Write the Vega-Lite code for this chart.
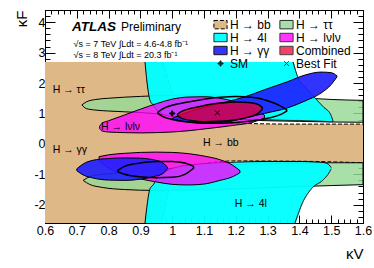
{
"$schema":"https://vega.github.io/schema/vega-lite/v6.json",
"width":318,"height":213,"autosize":"none",
"padding":{"left":45,"top":10,"right":11,"bottom":45},
"config":{"font":"Liberation Sans","view":{"stroke":"black","strokeWidth":1},
"axis":{"grid":false,"domainColor":"black","tickColor":"black","labelColor":"black","titleColor":"black","labelFont":"Liberation Sans","titleFont":"Liberation Sans"},
"legend":{"orient":"none","legendX":169,"legendY":8,"columns":2,"columnPadding":6,"rowPadding":-5,"labelFontSize":12,"labelOffset":3,"symbolSize":144,"symbolStrokeColor":"black","symbolStrokeWidth":1,"labelColor":"black","padding":0,"gridAlign":"each","labelFont":"Liberation Sans"}},
"datasets":{
"R":[
{"ch":"H → bb","p":"a","x":0.6,"lo":-2.6,"hi":2.69},
{"ch":"H → bb","p":"a","x":0.966,"lo":-2.6,"hi":2.69},
{"ch":"H → bb","p":"a","x":0.971,"lo":-2.4,"hi":2.69},
{"ch":"H → bb","p":"a","x":0.98,"lo":-2.0,"hi":2.38},
{"ch":"H → bb","p":"a","x":0.985,"lo":-1.75,"hi":2.2},
{"ch":"H → bb","p":"a","x":0.99,"lo":-1.5,"hi":2.03},
{"ch":"H → bb","p":"a","x":1.0,"lo":-1.28,"hi":1.7},
{"ch":"H → bb","p":"a","x":1.01,"lo":-1.1,"hi":1.5},
{"ch":"H → bb","p":"a","x":1.02,"lo":-1.0,"hi":1.3},
{"ch":"H → bb","p":"a","x":1.05,"lo":-0.8,"hi":1.0},
{"ch":"H → bb","p":"a","x":1.1,"lo":-0.65,"hi":0.8},
{"ch":"H → bb","p":"a","x":1.2,"lo":-0.56,"hi":0.68},
{"ch":"H → bb","p":"a","x":1.4,"lo":-0.57,"hi":0.65},
{"ch":"H → bb","p":"a","x":1.6,"lo":-0.62,"hi":0.65},
{"ch":"H → ττ","p":"u","x":0.716,"lo":1.28,"hi":1.28},
{"ch":"H → ττ","p":"u","x":0.73,"lo":1.16,"hi":1.38},
{"ch":"H → ττ","p":"u","x":0.76,"lo":1.11,"hi":1.46},
{"ch":"H → ττ","p":"u","x":0.8,"lo":1.08,"hi":1.5},
{"ch":"H → ττ","p":"u","x":0.9,"lo":1.03,"hi":1.56},
{"ch":"H → ττ","p":"u","x":1.0,"lo":0.95,"hi":1.6},
{"ch":"H → ττ","p":"u","x":1.1,"lo":0.87,"hi":1.61},
{"ch":"H → ττ","p":"u","x":1.2,"lo":0.8,"hi":1.6},
{"ch":"H → ττ","p":"u","x":1.3,"lo":0.76,"hi":1.57},
{"ch":"H → ττ","p":"u","x":1.4,"lo":0.74,"hi":1.52},
{"ch":"H → ττ","p":"u","x":1.5,"lo":0.72,"hi":1.46},
{"ch":"H → ττ","p":"u","x":1.6,"lo":0.71,"hi":1.43},
{"ch":"H → ττ","p":"l","x":0.72,"lo":-1.2,"hi":-1.2},
{"ch":"H → ττ","p":"l","x":0.74,"lo":-1.33,"hi":-1.08},
{"ch":"H → ττ","p":"l","x":0.78,"lo":-1.43,"hi":-1.0},
{"ch":"H → ττ","p":"l","x":0.85,"lo":-1.5,"hi":-0.95},
{"ch":"H → ττ","p":"l","x":0.95,"lo":-1.53,"hi":-0.85},
{"ch":"H → ττ","p":"l","x":1.05,"lo":-1.52,"hi":-0.76},
{"ch":"H → ττ","p":"l","x":1.2,"lo":-1.48,"hi":-0.68},
{"ch":"H → ττ","p":"l","x":1.35,"lo":-1.42,"hi":-0.64},
{"ch":"H → ττ","p":"l","x":1.5,"lo":-1.37,"hi":-0.62},
{"ch":"H → ττ","p":"l","x":1.6,"lo":-1.34,"hi":-0.62},
{"ch":"H → 4l","p":"u","x":0.9145,"lo":2.69,"hi":2.69},
{"ch":"H → 4l","p":"u","x":0.92,"lo":2.1,"hi":2.69},
{"ch":"H → 4l","p":"u","x":0.93,"lo":1.44,"hi":2.69},
{"ch":"H → 4l","p":"u","x":0.94,"lo":1.28,"hi":2.69},
{"ch":"H → 4l","p":"u","x":0.952,"lo":1.11,"hi":2.69},
{"ch":"H → 4l","p":"u","x":0.97,"lo":0.98,"hi":2.69},
{"ch":"H → 4l","p":"u","x":1.0,"lo":0.9,"hi":2.69},
{"ch":"H → 4l","p":"u","x":1.1,"lo":0.84,"hi":2.69},
{"ch":"H → 4l","p":"u","x":1.2,"lo":0.81,"hi":2.69},
{"ch":"H → 4l","p":"u","x":1.3,"lo":0.79,"hi":2.69},
{"ch":"H → 4l","p":"u","x":1.38,"lo":0.77,"hi":2.69},
{"ch":"H → 4l","p":"u","x":1.396,"lo":0.77,"hi":2.17},
{"ch":"H → 4l","p":"u","x":1.42,"lo":0.76,"hi":1.85},
{"ch":"H → 4l","p":"u","x":1.449,"lo":0.75,"hi":1.51},
{"ch":"H → 4l","p":"u","x":1.475,"lo":0.74,"hi":1.22},
{"ch":"H → 4l","p":"u","x":1.499,"lo":0.73,"hi":0.95},
{"ch":"H → 4l","p":"u","x":1.506,"lo":0.73,"hi":0.74},
{"ch":"H → 4l","p":"l","x":0.9145,"lo":-2.6,"hi":-2.6},
{"ch":"H → 4l","p":"l","x":0.92,"lo":-2.6,"hi":-2.1},
{"ch":"H → 4l","p":"l","x":0.93,"lo":-2.6,"hi":-1.48},
{"ch":"H → 4l","p":"l","x":0.94,"lo":-2.6,"hi":-1.35},
{"ch":"H → 4l","p":"l","x":0.955,"lo":-2.6,"hi":-1.09},
{"ch":"H → 4l","p":"l","x":0.98,"lo":-2.6,"hi":-0.9},
{"ch":"H → 4l","p":"l","x":1.02,"lo":-2.6,"hi":-0.75},
{"ch":"H → 4l","p":"l","x":1.1,"lo":-2.6,"hi":-0.65},
{"ch":"H → 4l","p":"l","x":1.2,"lo":-2.6,"hi":-0.6},
{"ch":"H → 4l","p":"l","x":1.3,"lo":-2.6,"hi":-0.58},
{"ch":"H → 4l","p":"l","x":1.386,"lo":-2.6,"hi":-0.58},
{"ch":"H → 4l","p":"l","x":1.411,"lo":-1.91,"hi":-0.58},
{"ch":"H → 4l","p":"l","x":1.44,"lo":-1.45,"hi":-0.59},
{"ch":"H → 4l","p":"l","x":1.474,"lo":-1.19,"hi":-0.61},
{"ch":"H → 4l","p":"l","x":1.49,"lo":-1.0,"hi":-0.66},
{"ch":"H → 4l","p":"l","x":1.5,"lo":-0.82,"hi":-0.78},
{"ch":"H → lνlν","p":"u","x":0.772,"lo":0.5,"hi":0.58},
{"ch":"H → lνlν","p":"u","x":0.78,"lo":0.42,"hi":0.68},
{"ch":"H → lνlν","p":"u","x":0.8,"lo":0.39,"hi":0.76},
{"ch":"H → lνlν","p":"u","x":0.85,"lo":0.37,"hi":0.95},
{"ch":"H → lνlν","p":"u","x":0.9,"lo":0.36,"hi":1.14},
{"ch":"H → lνlν","p":"u","x":0.95,"lo":0.37,"hi":1.32},
{"ch":"H → lνlν","p":"u","x":1.0,"lo":0.39,"hi":1.47},
{"ch":"H → lνlν","p":"u","x":1.05,"lo":0.43,"hi":1.54},
{"ch":"H → lνlν","p":"u","x":1.1,"lo":0.49,"hi":1.55},
{"ch":"H → lνlν","p":"u","x":1.15,"lo":0.55,"hi":1.5},
{"ch":"H → lνlν","p":"u","x":1.2,"lo":0.62,"hi":1.38},
{"ch":"H → lνlν","p":"u","x":1.25,"lo":0.7,"hi":1.18},
{"ch":"H → lνlν","p":"u","x":1.29,"lo":0.85,"hi":0.95},
{"ch":"H → lνlν","p":"l","x":0.77,"lo":-0.55,"hi":-0.42},
{"ch":"H → lνlν","p":"l","x":0.8,"lo":-0.8,"hi":-0.36},
{"ch":"H → lνlν","p":"l","x":0.85,"lo":-1.0,"hi":-0.31},
{"ch":"H → lνlν","p":"l","x":0.9,"lo":-1.15,"hi":-0.28},
{"ch":"H → lνlν","p":"l","x":0.95,"lo":-1.25,"hi":-0.27},
{"ch":"H → lνlν","p":"l","x":1.0,"lo":-1.33,"hi":-0.28},
{"ch":"H → lνlν","p":"l","x":1.05,"lo":-1.35,"hi":-0.32},
{"ch":"H → lνlν","p":"l","x":1.1,"lo":-1.32,"hi":-0.4},
{"ch":"H → lνlν","p":"l","x":1.15,"lo":-1.2,"hi":-0.52},
{"ch":"H → lνlν","p":"l","x":1.19,"lo":-1.08,"hi":-0.7},
{"ch":"H → lνlν","p":"l","x":1.213,"lo":-0.95,"hi":-0.88},
{"ch":"H → γγ","p":"u","x":1.0,"lo":0.82,"hi":0.84},
{"ch":"H → γγ","p":"u","x":1.05,"lo":0.72,"hi":1.05},
{"ch":"H → γγ","p":"u","x":1.1,"lo":0.7,"hi":1.2},
{"ch":"H → γγ","p":"u","x":1.17,"lo":0.72,"hi":1.38},
{"ch":"H → γγ","p":"u","x":1.227,"lo":0.85,"hi":1.54},
{"ch":"H → γγ","p":"u","x":1.29,"lo":1.0,"hi":1.78},
{"ch":"H → γγ","p":"u","x":1.362,"lo":1.18,"hi":2.04},
{"ch":"H → γγ","p":"u","x":1.42,"lo":1.42,"hi":2.27},
{"ch":"H → γγ","p":"u","x":1.468,"lo":1.67,"hi":2.36},
{"ch":"H → γγ","p":"u","x":1.5,"lo":1.95,"hi":2.34},
{"ch":"H → γγ","p":"u","x":1.518,"lo":2.2,"hi":2.24},
{"ch":"H → γγ","p":"l","x":0.7,"lo":-0.88,"hi":-0.82},
{"ch":"H → γγ","p":"l","x":0.72,"lo":-1.02,"hi":-0.66},
{"ch":"H → γγ","p":"l","x":0.75,"lo":-1.12,"hi":-0.54},
{"ch":"H → γγ","p":"l","x":0.8,"lo":-1.19,"hi":-0.48},
{"ch":"H → γγ","p":"l","x":0.85,"lo":-1.2,"hi":-0.46},
{"ch":"H → γγ","p":"l","x":0.9,"lo":-1.16,"hi":-0.47},
{"ch":"H → γγ","p":"l","x":0.94,"lo":-1.08,"hi":-0.52},
{"ch":"H → γγ","p":"l","x":0.97,"lo":-0.98,"hi":-0.62},
{"ch":"H → γγ","p":"l","x":0.985,"lo":-0.82,"hi":-0.76},
{"ch":"Combined","p":"u","x":1.017,"lo":0.92,"hi":0.98},
{"ch":"Combined","p":"u","x":1.03,"lo":0.84,"hi":1.07},
{"ch":"Combined","p":"u","x":1.06,"lo":0.77,"hi":1.17},
{"ch":"Combined","p":"u","x":1.1,"lo":0.73,"hi":1.26},
{"ch":"Combined","p":"u","x":1.15,"lo":0.74,"hi":1.34},
{"ch":"Combined","p":"u","x":1.2,"lo":0.79,"hi":1.38},
{"ch":"Combined","p":"u","x":1.24,"lo":0.88,"hi":1.36},
{"ch":"Combined","p":"u","x":1.27,"lo":1.0,"hi":1.3},
{"ch":"Combined","p":"u","x":1.283,"lo":1.14,"hi":1.2},
{"ch":"C95","p":"u","x":0.955,"lo":1.0,"hi":1.04},
{"ch":"C95","p":"u","x":0.97,"lo":0.9,"hi":1.15},
{"ch":"C95","p":"u","x":1.0,"lo":0.8,"hi":1.27},
{"ch":"C95","p":"u","x":1.05,"lo":0.72,"hi":1.38},
{"ch":"C95","p":"u","x":1.1,"lo":0.68,"hi":1.47},
{"ch":"C95","p":"u","x":1.15,"lo":0.68,"hi":1.53},
{"ch":"C95","p":"u","x":1.2,"lo":0.7,"hi":1.56},
{"ch":"C95","p":"u","x":1.25,"lo":0.75,"hi":1.53},
{"ch":"C95","p":"u","x":1.3,"lo":0.84,"hi":1.42},
{"ch":"C95","p":"u","x":1.34,"lo":0.96,"hi":1.25},
{"ch":"C95","p":"u","x":1.36,"lo":1.08,"hi":1.12},
{"ch":"C95","p":"l","x":0.83,"lo":-0.92,"hi":-0.86},
{"ch":"C95","p":"l","x":0.85,"lo":-1.0,"hi":-0.74},
{"ch":"C95","p":"l","x":0.9,"lo":-1.08,"hi":-0.63},
{"ch":"C95","p":"l","x":0.95,"lo":-1.11,"hi":-0.58},
{"ch":"C95","p":"l","x":1.0,"lo":-1.1,"hi":-0.58},
{"ch":"C95","p":"l","x":1.04,"lo":-1.0,"hi":-0.63},
{"ch":"C95","p":"l","x":1.067,"lo":-0.8,"hi":-0.74}
],
"P":[{"ch":"SM","x":1.0,"y":1.0},{"ch":"Best Fit","x":1.142,"y":1.02}],
"L":[{"t":"H → ττ","x":0.624,"y":1.77},{"t":"H → lνlν","x":0.776,"y":0.55},{"t":"H → γγ","x":0.624,"y":-0.2},{"t":"H → bb","x":1.097,"y":0.03},{"t":"H → 4l","x":1.197,"y":-1.98}],
"A":[{"t":"ATLAS","x":0.685,"y":3.71}],
"B":[{"t":"Preliminary","x":0.839,"y":3.71}],
"S":[{"t":"√s = 7 TeV ∫Ldt = 4.6-4.8 fb⁻¹","x":0.69,"y":3.18},{"t":"√s = 8 TeV ∫Ldt = 20.3 fb⁻¹","x":0.69,"y":2.82}]
},
"resolve":{"axis":{"x":"independent","y":"independent"}},
"layer":[
{"data":{"name":"R"},"transform":[{"filter":"datum.ch == 'H → bb'"}],
"mark":{"type":"area","interpolate":"monotone","clip":true},
"encoding":{
"x":{"field":"x","type":"quantitative","scale":{"domain":[0.6,1.6],"nice":false,"zero":false},
"axis":{"orient":"bottom","values":[0.6,0.62,0.64,0.66,0.68,0.7,0.72,0.74,0.76,0.78,0.8,0.82,0.84,0.86,0.88,0.9,0.92,0.94,0.96,0.98,1,1.02,1.04,1.06,1.08,1.1,1.12,1.14,1.16,1.18,1.2,1.22,1.24,1.26,1.28,1.3,1.32,1.34,1.36,1.38,1.4,1.42,1.44,1.46,1.48,1.5,1.52,1.54,1.56,1.58,1.6],
"tickSize":{"condition":{"test":"abs(datum.value*10-round(datum.value*10))<0.001","value":-8},"value":-4},
"labelExpr":"abs(datum.value*10-round(datum.value*10))<0.001 ? toString(datum.value) : ''",
"labelPadding":9,"labelFontSize":12.5,"labelFlush":false,"labelOverlap":false,
"title":"κV","titleAnchor":"end","titleFontSize":15,"titleFontWeight":"normal","titlePadding":6}},
"y":{"field":"lo","type":"quantitative","scale":{"domain":[-2.6,4.4],"nice":false,"zero":false},
"axis":{"orient":"left","values":[-2.6,-2.4,-2.2,-2,-1.8,-1.6,-1.4,-1.2,-1,-0.8,-0.6,-0.4,-0.2,0,0.2,0.4,0.6,0.8,1,1.2,1.4,1.6,1.8,2,2.2,2.4,2.6,2.8,3,3.2,3.4,3.6,3.8,4,4.2,4.4],
"tickSize":{"condition":{"test":"abs(datum.value-round(datum.value))<0.001","value":-10},"value":-5},
"labelExpr":"abs(datum.value-round(datum.value))<0.001 ? toString(datum.value) : ''",
"labelPadding":10,"labelFontSize":12.5,"labelFlush":false,"labelOverlap":false,
"title":"κF","titleAnchor":"end","titleFontSize":15,"titleFontWeight":"normal","titlePadding":4}},
"y2":{"field":"hi"},
"detail":{"field":"p"},
"color":{"field":"ch","type":"nominal","scale":{"domain":["H → bb","H → 4l","H → γγ","SM","H → ττ","H → lνlν","Combined","Best Fit"],"range":["#deb887","#00ffff","#2020ff","#000000","#96d996","#ff00ff","#f00030","#000000"]},
"legend":{"title":null,"gridAlign":"each","columnPadding":6,"rowPadding":-5,"encode":{"symbols":{"update":{"opacity":{"scale":"fillOpacity","field":"value"},"strokeDash":{"scale":"strokeDash","field":"value"}}}}}},
"fillOpacity":{"field":"ch","type":"nominal","scale":{"domain":["H → bb","H → 4l","H → γγ","SM","H → ττ","H → lνlν","Combined","Best Fit"],"range":[1,0.7,0.58,1,0.55,0.7,0.72,1]},"legend":null},
"strokeDash":{"field":"ch","type":"nominal","scale":{"domain":["H → bb","H → 4l","H → γγ","SM","H → ττ","H → lνlν","Combined","Best Fit"],"range":[[5,3],[5,2,1,2],[2,2],[1,0],[4,3],[1,1.5],[1,0],[1,0]]},"legend":null}
}},
{"data":{"name":"R"},"transform":[{"filter":"datum.ch == 'H → bb' && datum.x >= 0.971"}],
"mark":{"type":"line","interpolate":"monotone","color":"black","strokeWidth":1,"clip":true},
"encoding":{"x":{"field":"x","type":"quantitative","axis":null},"y":{"field":"hi","type":"quantitative","axis":null},
"strokeDash":{"field":"ch","type":"nominal","legend":null}}},
{"data":{"name":"R"},"transform":[{"filter":"datum.ch == 'H → bb' && datum.x >= 0.966"}],
"mark":{"type":"line","interpolate":"monotone","color":"black","strokeWidth":1,"clip":true},
"encoding":{"x":{"field":"x","type":"quantitative","axis":null},"y":{"field":"lo","type":"quantitative","axis":null},
"strokeDash":{"field":"ch","type":"nominal","legend":null}}},
{"data":{"name":"R"},"transform":[{"filter":"datum.ch == 'H → ττ'"}],
"mark":{"type":"area","interpolate":"monotone","stroke":"black","strokeWidth":1,"clip":true},
"encoding":{"x":{"field":"x","type":"quantitative","axis":null},"y":{"field":"lo","type":"quantitative","axis":null},"y2":{"field":"hi"},"detail":{"field":"p"},
"color":{"field":"ch","type":"nominal","legend":{"title":null}},"fillOpacity":{"field":"ch","type":"nominal","legend":null},"strokeDash":{"field":"ch","type":"nominal","legend":null}}},
{"data":{"name":"R"},"transform":[{"filter":"datum.ch == 'H → 4l'"}],
"mark":{"type":"area","interpolate":"monotone","clip":true},
"encoding":{"x":{"field":"x","type":"quantitative","axis":null},"y":{"field":"lo","type":"quantitative","axis":null},"y2":{"field":"hi"},"detail":{"field":"p"},
"color":{"field":"ch","type":"nominal","legend":{"title":null}},"fillOpacity":{"field":"ch","type":"nominal","legend":null},"strokeDash":{"field":"ch","type":"nominal","legend":null}}},
{"data":{"name":"R"},"transform":[{"filter":"datum.ch == 'H → 4l' && (datum.p == 'l' || datum.x >= 1.38)"}],
"mark":{"type":"line","interpolate":"monotone","color":"black","strokeWidth":1,"clip":true},
"encoding":{"x":{"field":"x","type":"quantitative","axis":null},"y":{"field":"hi","type":"quantitative","axis":null},"detail":{"field":"p"},
"strokeDash":{"field":"ch","type":"nominal","legend":null}}},
{"data":{"name":"R"},"transform":[{"filter":"datum.ch == 'H → 4l' && (datum.p == 'u' || datum.x >= 1.386)"}],
"mark":{"type":"line","interpolate":"monotone","color":"black","strokeWidth":1,"clip":true},
"encoding":{"x":{"field":"x","type":"quantitative","axis":null},"y":{"field":"lo","type":"quantitative","axis":null},"detail":{"field":"p"},
"strokeDash":{"field":"ch","type":"nominal","legend":null}}},
{"data":{"name":"R"},"transform":[{"filter":"datum.ch == 'H → lνlν'"}],
"mark":{"type":"area","interpolate":"monotone","stroke":"black","strokeWidth":1,"clip":true},
"encoding":{"x":{"field":"x","type":"quantitative","axis":null},"y":{"field":"lo","type":"quantitative","axis":null},"y2":{"field":"hi"},"detail":{"field":"p"},
"color":{"field":"ch","type":"nominal","legend":{"title":null}},"fillOpacity":{"field":"ch","type":"nominal","legend":null},"strokeDash":{"field":"ch","type":"nominal","legend":null}}},
{"data":{"name":"R"},"transform":[{"filter":"datum.ch == 'H → γγ'"}],
"mark":{"type":"area","interpolate":"monotone","stroke":"black","strokeWidth":1,"clip":true},
"encoding":{"x":{"field":"x","type":"quantitative","axis":null},"y":{"field":"lo","type":"quantitative","axis":null},"y2":{"field":"hi"},"detail":{"field":"p"},
"color":{"field":"ch","type":"nominal","legend":{"title":null}},"fillOpacity":{"field":"ch","type":"nominal","legend":null},"strokeDash":{"field":"ch","type":"nominal","legend":null}}},
{"data":{"name":"R"},"transform":[{"filter":"datum.ch == 'Combined'"}],
"mark":{"type":"area","interpolate":"monotone","stroke":"black","strokeWidth":1.5,"clip":true},
"encoding":{"x":{"field":"x","type":"quantitative","axis":null},"y":{"field":"lo","type":"quantitative","axis":null},"y2":{"field":"hi"},"detail":{"field":"p"},
"color":{"field":"ch","type":"nominal","legend":{"title":null}},"fillOpacity":{"field":"ch","type":"nominal","legend":null},"strokeDash":{"field":"ch","type":"nominal","legend":null}}},
{"data":{"name":"R"},"transform":[{"filter":"datum.ch == 'C95'"}],
"mark":{"type":"area","interpolate":"monotone","filled":false,"stroke":"black","strokeWidth":1.5,"clip":true},
"encoding":{"x":{"field":"x","type":"quantitative","axis":null},"y":{"field":"lo","type":"quantitative","axis":null},"y2":{"field":"hi"},"detail":{"field":"p"}}},
{"data":{"name":"P"},
"mark":{"type":"point","filled":true,"size":144,"stroke":"black","strokeWidth":1,"opacity":1},
"encoding":{
"x":{"field":"x","type":"quantitative","axis":{"orient":"top","values":[0.6,0.62,0.64,0.66,0.68,0.7,0.72,0.74,0.76,0.78,0.8,0.82,0.84,0.86,0.88,0.9,0.92,0.94,0.96,0.98,1,1.02,1.04,1.06,1.08,1.1,1.12,1.14,1.16,1.18,1.2,1.22,1.24,1.26,1.28,1.3,1.32,1.34,1.36,1.38,1.4,1.42,1.44,1.46,1.48,1.5,1.52,1.54,1.56,1.58,1.6],
"tickSize":{"condition":{"test":"abs(datum.value*10-round(datum.value*10))<0.001","value":-8},"value":-4},"labels":false,"title":null}},
"y":{"field":"y","type":"quantitative","axis":{"orient":"right","values":[-2.6,-2.4,-2.2,-2,-1.8,-1.6,-1.4,-1.2,-1,-0.8,-0.6,-0.4,-0.2,0,0.2,0.4,0.6,0.8,1,1.2,1.4,1.6,1.8,2,2.2,2.4,2.6,2.8,3,3.2,3.4,3.6,3.8,4,4.2,4.4],
"tickSize":{"condition":{"test":"abs(datum.value-round(datum.value))<0.001","value":-10},"value":-5},"labels":false,"title":null}},
"color":{"field":"ch","type":"nominal","legend":{"title":null}},
"shape":{"field":"ch","type":"nominal","scale":{"domain":["H → bb","H → 4l","H → γγ","SM","H → ττ","H → lνlν","Combined","Best Fit"],"range":["M-1.1,-0.7L1.1,-0.7L1.1,0.7L-1.1,0.7Z","M-1.1,-0.7L1.1,-0.7L1.1,0.7L-1.1,0.7Z","M-1.1,-0.7L1.1,-0.7L1.1,0.7L-1.1,0.7Z","M-0.42,-0.09L-0.09,-0.09L-0.09,-0.42L0.09,-0.42L0.09,-0.09L0.42,-0.09L0.42,0.09L0.09,0.09L0.09,0.42L-0.09,0.42L-0.09,0.09L-0.42,0.09Z","M-1.1,-0.7L1.1,-0.7L1.1,0.7L-1.1,0.7Z","M-1.1,-0.7L1.1,-0.7L1.1,0.7L-1.1,0.7Z","M-1.1,-0.7L1.1,-0.7L1.1,0.7L-1.1,0.7Z","M-0.4,-0.4L0.4,0.4M-0.4,0.4L0.4,-0.4"]},"legend":{"title":null}}
}},
{"data":{"name":"L"},"mark":{"type":"text","align":"left","baseline":"middle","fontSize":10.5,"color":"black","font":"Liberation Sans"},
"encoding":{"x":{"field":"x","type":"quantitative","axis":null},"y":{"field":"y","type":"quantitative","axis":null},"text":{"field":"t"}}},
{"data":{"name":"A"},"mark":{"type":"text","align":"left","baseline":"alphabetic","fontSize":13.5,"fontWeight":"bold","fontStyle":"italic","color":"black","font":"Liberation Sans"},
"encoding":{"x":{"field":"x","type":"quantitative","axis":null},"y":{"field":"y","type":"quantitative","axis":null},"text":{"field":"t"}}},
{"data":{"name":"B"},"mark":{"type":"text","align":"left","baseline":"alphabetic","fontSize":12,"color":"black","font":"Liberation Sans"},
"encoding":{"x":{"field":"x","type":"quantitative","axis":null},"y":{"field":"y","type":"quantitative","axis":null},"text":{"field":"t"}}},
{"data":{"name":"S"},"mark":{"type":"text","align":"left","baseline":"alphabetic","fontSize":9,"color":"black","font":"Liberation Sans"},
"encoding":{"x":{"field":"x","type":"quantitative","axis":null},"y":{"field":"y","type":"quantitative","axis":null},"text":{"field":"t"}}}
]
}
